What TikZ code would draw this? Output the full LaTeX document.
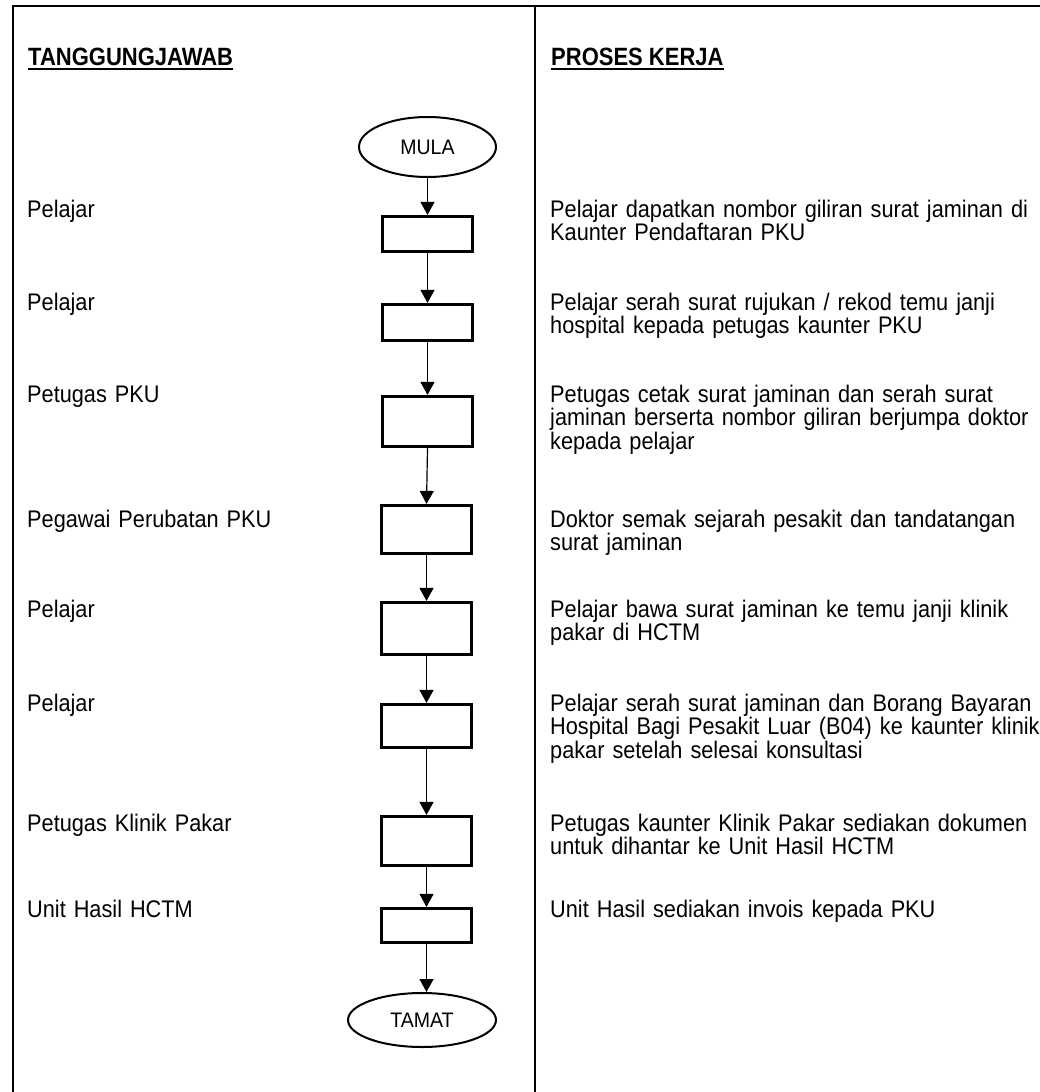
\documentclass[tikz,border=0pt]{standalone}
\usepackage{fontspec}
\setmainfont{Liberation Sans}[FakeStretch=0.905]
\newfontfamily\hdrfont{Liberation Sans}[FakeStretch=0.88]
\newfontfamily\termfont{Liberation Sans}[FakeStretch=0.93]
\usetikzlibrary{shapes.geometric,arrows.meta,calc}
\begin{document}
\begin{tikzpicture}[x=1pt,y=-1pt,
  txt/.style={anchor=base west,inner sep=0,text width=495pt,align=left,font=\fontsize{24}{23.5}\selectfont},
  hdr/.style={anchor=base west,inner sep=0,font=\hdrfont\bfseries\fontsize{25}{25}\selectfont},
  stepbox/.style={draw,rectangle,line width=2.7pt,minimum width=90.5pt,inner sep=0},
  term/.style={draw,ellipse,line width=2pt,inner sep=0,font=\termfont\fontsize{21}{21}\selectfont},
  flow/.style={line width=1.2pt,-{Triangle[length=13pt,width=14pt]}},
  frameline/.style={line width=2.5pt},
  uline/.style={line width=2.5pt}]
\useasboundingbox (0,0) rectangle (1040,1092);
% frame
\coordinate (ftl) at (13,6);
\coordinate (ftr) at (1040,6);
\coordinate (fbl) at (13,1092);
\coordinate (dtop) at (535,6);
\coordinate (dbot) at (535,1092);
\draw[frameline] (fbl) -- (ftl) -- (ftr);
\draw[frameline] (dtop) -- (dbot);
% headers
\node[hdr] (h1) at (28,65) {TANGGUNGJAWAB};
\node[hdr] (h2) at (551,65) {PROSES KERJA};
\draw[uline] ($(h1.base west)+(0,4)$) -- ($(h1.base east)+(0,4)$);
\draw[uline] ($(h2.base west)+(0,4)$) -- ($(h2.base east)+(0,4)$);
% flow
\node[term,minimum width=137pt,minimum height=60pt] (mula) at (427.5,147) {MULA};
\node[stepbox,minimum height=35.5pt] (b1) at (427.5,234) {};
\node[stepbox,minimum height=36.5pt] (b2) at (427.5,322.5) {};
\node[stepbox,minimum height=50.5pt] (b3) at (427.5,421.5) {};
\node[stepbox,minimum height=48.5pt] (b4) at (426.5,529.5) {};
\node[stepbox,minimum height=52.5pt] (b5) at (426.5,628.5) {};
\node[stepbox,minimum height=43.5pt] (b6) at (426.5,726) {};
\node[stepbox,minimum height=49.5pt] (b7) at (426.5,841) {};
\node[stepbox,minimum height=34.5pt] (b8) at (426.5,925.5) {};
\node[term,minimum width=148pt,minimum height=54pt] (tamat) at (422,1020) {TAMAT};
\draw[flow] (mula.south) -- (b1.north);
\draw[flow] (b1.south) -- (b2.north);
\draw[flow] (b2.south) -- (b3.north);
\draw[flow] (b3.south) -- (b4.north);
\draw[flow] (b4.south) -- (b5.north);
\draw[flow] (b5.south) -- (b6.north);
\draw[flow] (b6.south) -- (b7.north);
\draw[flow] (b7.south) -- (b8.north);
\draw[flow] (b8.south) -- (b8.south |- tamat.north);
% left labels
\node[txt] (l1) at (27,217) {Pelajar};
\node[txt] (l2) at (27,310) {Pelajar};
\node[txt] (l3) at (27,402) {Petugas PKU};
\node[txt] (l4) at (27,527) {Pegawai Perubatan PKU};
\node[txt] (l5) at (27,617) {Pelajar};
\node[txt] (l6) at (27,711) {Pelajar};
\node[txt] (l7) at (27,831) {Petugas Klinik Pakar};
\node[txt] (l8) at (27,917) {Unit Hasil HCTM};
% right texts
\node[txt] (r1) at (550,217) {Pelajar dapatkan nombor giliran surat jaminan di\\Kaunter Pendaftaran PKU};
\node[txt] (r2) at (550,310) {Pelajar serah surat rujukan / rekod temu janji\\hospital kepada petugas kaunter PKU};
\node[txt] (r3) at (550,402) {Petugas cetak surat jaminan dan serah surat\\jaminan berserta nombor giliran berjumpa doktor\\kepada pelajar};
\node[txt] (r4) at (550,527) {Doktor semak sejarah pesakit dan tandatangan\\surat jaminan};
\node[txt] (r5) at (550,617) {Pelajar bawa surat jaminan ke temu janji klinik\\pakar di HCTM};
\node[txt] (r6) at (550,711) {Pelajar serah surat jaminan dan Borang Bayaran\\Hospital Bagi Pesakit Luar (B04) ke kaunter klinik\\pakar setelah selesai konsultasi};
\node[txt] (r7) at (550,831) {Petugas kaunter Klinik Pakar sediakan dokumen\\untuk dihantar ke Unit Hasil HCTM};
\node[txt] (r8) at (550,917) {Unit Hasil sediakan invois kepada PKU};
\end{tikzpicture}
\end{document}
